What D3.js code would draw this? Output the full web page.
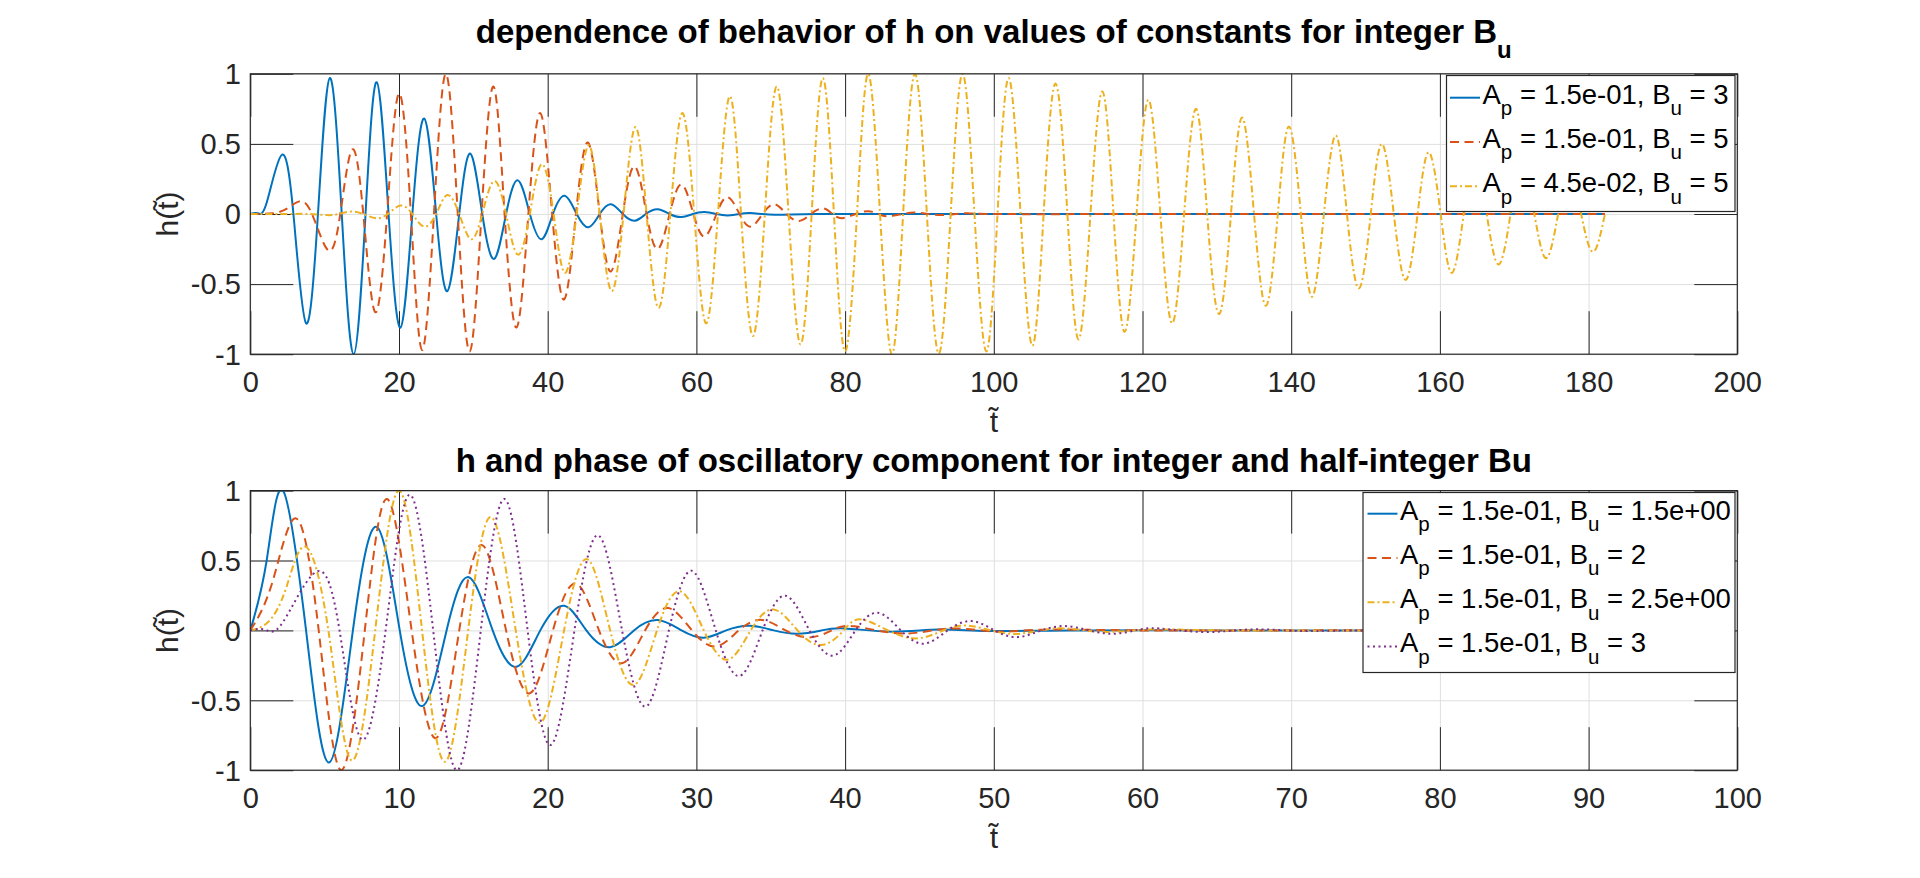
<!DOCTYPE html>
<html>
<head>
<meta charset="utf-8">
<script src="https://cdnjs.cloudflare.com/ajax/libs/d3/7.8.5/d3.min.js"></script>
<style>
  body { margin: 0; background: #fff; }
</style>
</head>
<body>
<div id="chart-area"></div>
<script>
// tick values / labels
var xTicksTop = [0, 20, 40, 60, 80, 100, 120, 140, 160, 180, 200];
var xTicksBottom = [0, 10, 20, 30, 40, 50, 60, 70, 80, 90, 100];
var yTicks = [-1, -0.5, 0, 0.5, 1];
var yTickLabels = ["-1", "-0.5", "0", "0.5", "1"];

// legend values
var topAp = ["1.5e-01", "1.5e-01", "4.5e-02"];
var topBu = ["3", "5", "5"];
var bottomAp = ["1.5e-01", "1.5e-01", "1.5e-01", "1.5e-01"];
var bottomBu = ["1.5e+00", "2", "2.5e+00", "3"];

// top panel: Ap = 0.15, Bu = 3
var topBu3 = [[0,0],[1,0.005],[2.2,0.08],[4.2,0.42],[5.8,0],[7.5,-0.78],[9.1,0],[10.7,0.97],[12.3,0],
  [13.9,-1.0],[15.5,0],[17.0,0.94],[18.6,0],[20.2,-0.81],[21.8,0],[23.4,0.68],[25.0,0],[26.5,-0.55],
  [28.1,0],[29.6,0.43],[31.2,0],[32.8,-0.32],[34.4,0],[36.0,0.24],[37.6,0],[39.2,-0.18],[40.7,0],
  [42.3,0.13],[43.9,0],[45.5,-0.095],[47.0,0],[48.5,0.07],[50.1,0],[51.7,-0.048],[53.2,0],[54.8,0.034],
  [56.4,0],[58.0,-0.022],[59.5,0],[61.1,0.014],[62.7,0],[64.2,-0.01],[65.8,0],[67.3,0.007],[70.5,-0.005],
  [76,0],[90,0],[110,0],[130,0],[150,0],[170,0],[182.2,0]];

// top panel: Ap = 0.15, Bu = 5
var topBu5 = [[0,0],[3,0.005],[5,0.04],[6.6,0.09],[8.3,0],[10.5,-0.26],[12.1,0],[13.7,0.46],[15.2,0],
  [16.8,-0.70],[18.4,0],[20.0,0.86],[21.6,0],[23.1,-0.97],[24.7,0],[26.3,1.0],[27.9,0],[29.5,-0.98],
  [31.1,0],[32.7,0.91],[34.2,0],[35.8,-0.81],[37.4,0],[39.0,0.72],[40.6,0],[42.2,-0.61],[43.8,0],
  [45.4,0.51],[47.0,0],[48.5,-0.41],[50.1,0],[51.7,0.34],[53.3,0],[54.8,-0.25],[56.4,0],[58.0,0.21],
  [59.6,0],[61.1,-0.16],[62.7,0],[64.2,0.12],[65.8,0],[67.3,-0.09],[68.9,0],[70.5,0.07],[72.1,0],
  [73.8,-0.05],[75.4,0],[77.0,0.04],[78.3,0],[79.6,-0.03],[81.4,0],[83.1,0.02],[84.5,0],[86.0,-0.015],
  [89.3,0.01],[92.5,-0.007],[96,0.005],[100,0],[120,0],[140,0],[160,0],[182.2,0]];

// top panel: Ap = 0.045, Bu = 5
var topSmallAp = [[0,0],[5,0],[8,0],[10.3,-0.008],[11.9,0],[13.5,0.017],[15.2,0],[16.9,-0.03],[18.5,0],
  [20.2,0.06],[21.8,0],[23.4,-0.09],[25.0,0],[26.5,0.135],[28.1,0],[29.7,-0.18],[31.2,0],[32.8,0.235],
  [34.4,0],[36.0,-0.29],[37.6,0],[39.2,0.355],[40.8,0],[42.3,-0.42],[43.9,0],[45.5,0.49],[47.0,0],
  [48.6,-0.55],[50.2,0],[51.8,0.62],[53.3,0],[54.9,-0.67],[56.5,0],[58.1,0.72],[59.7,0],[61.3,-0.78],
  [62.9,0],[64.5,0.84],[66.0,0],[67.6,-0.87],[69.2,0],[70.8,0.91],[72.4,0],[74.0,-0.93],[75.5,0],
  [77.0,0.97],[78.5,0],[80.0,-0.98],[81.6,0],[83.1,1.0],[84.7,0],[86.3,-1.0],[87.8,0],[89.4,1.0],
  [91.0,0],[92.6,-0.995],[94.2,0],[95.8,1.0],[97.4,0],[99.0,-0.98],[100.5,0],[102.0,0.97],[103.6,0],
  [105.2,-0.94],[106.7,0],[108.3,0.93],[109.9,0],[111.4,-0.895],[113.0,0],[114.6,0.874],[116.1,0],
  [117.6,-0.84],[119.2,0],[120.8,0.814],[122.4,0],[124.0,-0.78],[125.6,0],[127.2,0.75],[128.7,0],
  [130.3,-0.714],[131.9,0],[133.4,0.688],[135.0,0],[136.6,-0.655],[138.2,0],[139.7,0.624],[141.3,0],
  [142.8,-0.59],[144.4,0],[146.0,0.56],[147.5,0],[149.1,-0.53],[150.7,0],[152.2,0.50],[153.8,0],
  [155.4,-0.47],[157.0,0],[158.5,0.44],[160.1,0],[161.6,-0.42],[163.2,0],[164.7,0.39],[166.3,0],
  [167.9,-0.36],[169.5,0],[171.0,0.34],[172.7,0],[174.3,-0.315],[175.9,0],[177.4,0.29],[179.0,0],
  [180.6,-0.27],[182.2,0]];

// bottom panel: Ap = 0.15, Bu = 1.5
var botBu15 = [[0,0],[1.1,0.5],[2.2,1.0],[3.75,0],[5.3,-0.945],[6.9,0],[8.5,0.74],[10.05,0],[11.6,-0.54],
  [13.2,0],[14.7,0.38],[16.3,0],[17.9,-0.26],[19.5,0],[21.1,0.176],[22.6,0],[24.2,-0.12],[25.8,0],
  [27.4,0.074],[29.0,0],[30.5,-0.052],[32.0,0],[33.6,0.033],[35.2,0],[36.8,-0.024],[38.4,0],[40.0,0.014],
  [43.1,-0.009],[46.3,0.006],[49.5,-0.004],[55,0],[65,0],[75,0],[91,0]];

// bottom panel: Ap = 0.15, Bu = 2
var botBu2 = [[0,0],[1.5,0.35],[3.1,0.8],[4.6,0],[6.1,-1.0],[7.7,0],[9.2,0.94],[10.85,0],[12.5,-0.77],
  [14.05,0],[15.6,0.61],[17.2,0],[18.8,-0.45],[20.35,0],[21.9,0.335],[23.45,0],[25.0,-0.235],[26.55,0],
  [28.1,0.16],[29.7,0],[31.3,-0.115],[32.85,0],[34.4,0.075],[36.0,0],[37.6,-0.05],[39.1,0],[40.6,0.03],
  [43.8,-0.022],[47.0,0.013],[50.1,-0.008],[53.3,0.005],[60,0],[70,0],[80,0],[91,0]];

// bottom panel: Ap = 0.15, Bu = 2.5
var botBu25 = [[0,0],[1.2,0.06],[2.4,0.3],[3.7,0.6],[5.25,0],[6.8,-0.93],[8.4,0],[10.0,1.0],[11.55,0],
  [13.1,-0.94],[14.65,0],[16.2,0.81],[17.85,0],[19.5,-0.66],[21.1,0],[22.65,0.51],[24.2,0],[25.8,-0.39],
  [27.35,0],[28.9,0.28],[30.5,0],[32.1,-0.21],[33.65,0],[35.2,0.15],[36.8,0],[38.4,-0.105],[39.9,0],
  [41.4,0.072],[44.6,-0.057],[47.7,0.033],[51.0,-0.024],[54.1,0.014],[57.2,-0.01],[60.4,0.006],
  [65,0],[75,0],[91,0]];

// bottom panel: Ap = 0.15, Bu = 3
var botBu3 = [[0,0],[1.0,0.005],[2.2,0.06],[4.45,0.42],[6.0,0],[7.5,-0.78],[9.1,0],[10.7,0.97],[12.3,0],
  [13.9,-1.0],[15.5,0],[17.1,0.94],[18.65,0],[20.2,-0.82],[21.8,0],[23.4,0.68],[25.0,0],[26.6,-0.545],
  [28.15,0],[29.7,0.426],[31.3,0],[32.9,-0.326],[34.45,0],[36.0,0.248],[37.6,0],[39.2,-0.18],[40.7,0],
  [42.2,0.126],[43.75,0],[45.3,-0.095],[46.9,0],[48.5,0.067],[50.05,0],[51.6,-0.048],[53.2,0],[54.8,0.031],
  [56.4,0],[58.0,-0.024],[59.5,0],[61.1,0.014],[64.2,-0.012],[67.3,0.007],[70.4,-0.004],[75,0],[91,0]];

var colors = ["#0072BD", "#D95319", "#EDB120", "#7E2F8E"];
var dashes = [null, "9,5.5", "7,3,2,3", "2,3.5"];

var FONT = "'Liberation Sans', Arial, Helvetica, sans-serif";
var textColor = "#262626";

var svg = d3.select("#chart-area")
  .append("svg")
    .attr("width", 1920)
    .attr("height", 878);

var left = 250.3, right = 1737.3;

drawPanel({
  id: "top", top: 73.8, bottom: 354.2, xMax: 200, xTicks: xTicksTop,
  series: [topBu3, topBu5, topSmallAp], ap: topAp, bu: topBu,
  title: "dependence of behavior of h on values of constants for integer B", titleSub: "u",
  titleY: 42.7, legend: { x: 1446.5, y: 75.5, w: 288.5, h: 136, row0: 103.5, lineX: 1450, textX: 1482.5 }
});

drawPanel({
  id: "bot", top: 490.6, bottom: 770.2, xMax: 100, xTicks: xTicksBottom,
  series: [botBu15, botBu2, botBu25, botBu3], ap: bottomAp, bu: bottomBu,
  title: "h and phase of oscillatory component for integer and half-integer Bu", titleSub: null,
  titleY: 471.7, legend: { x: 1363, y: 492.5, w: 372, h: 180, row0: 519.5, lineX: 1367.5, textX: 1400 }
});

function drawPanel(p) {
  var width = right - left, height = p.bottom - p.top;
  var g = svg.append("g").attr("transform", "translate(" + left + "," + p.top + ")");

  var x = d3.scaleLinear().domain([0, p.xMax]).range([0, width]);
  var y = d3.scaleLinear().domain([-1, 1]).range([height, 0]);

  // grid
  g.append("g")
    .attr("transform", "translate(0," + height + ")")
    .call(d3.axisBottom(x).tickValues(p.xTicks).tickSize(-height).tickFormat(""))
    .call(function(s){ s.select(".domain").remove(); s.selectAll("line").attr("stroke", "#dfdfdf"); });
  g.append("g")
    .call(d3.axisLeft(y).tickValues(yTicks).tickSize(-width).tickFormat(""))
    .call(function(s){ s.select(".domain").remove(); s.selectAll("line").attr("stroke", "#dfdfdf"); });

  // ticks on all four sides, pointing inwards
  var tk = 43;
  var xAxisB = g.append("g")
    .attr("transform", "translate(0," + height + ")")
    .call(d3.axisBottom(x).tickValues(p.xTicks).tickSizeInner(-tk).tickSizeOuter(0).tickPadding(0));
  xAxisB.selectAll("text").attr("dy", null).attr("y", 38);
  g.append("g")
    .call(d3.axisTop(x).tickValues(p.xTicks).tickSizeInner(-tk).tickSizeOuter(0).tickFormat(""));
  g.append("g")
    .call(d3.axisLeft(y).tickValues(yTicks).tickSizeInner(-tk).tickSizeOuter(0).tickPadding(9.5)
      .tickFormat(function(d, i){ return yTickLabels[i]; }))
    .selectAll("text").attr("dy", "0.34em");
  g.append("g")
    .attr("transform", "translate(" + width + ",0)")
    .call(d3.axisRight(y).tickValues(yTicks).tickSizeInner(-tk).tickSizeOuter(0).tickFormat(""));

  g.selectAll(".domain").remove();
  g.selectAll(".tick line").filter(function(){ return d3.select(this).attr("stroke") !== "#dfdfdf"; })
    .attr("stroke", textColor);
  g.selectAll(".tick text")
    .attr("font-family", FONT).attr("font-size", "29px").attr("fill", textColor);

  // lines
  g.append("clipPath").attr("id", "clip-" + p.id)
    .append("rect").attr("width", width).attr("height", height);

  var line = d3.line()
    .x(function(d){ return x(d[0]); })
    .y(function(d){ return y(d[1]); })
    .curve(d3.curveNatural);

  g.append("g").attr("clip-path", "url(#clip-" + p.id + ")")
    .selectAll("path")
    .data(p.series)
    .enter().append("path")
      .attr("fill", "none")
      .attr("stroke", function(d, i){ return colors[i]; })
      .attr("stroke-width", 2)
      .attr("stroke-dasharray", function(d, i){ return dashes[i]; })
      .attr("d", line);

  // axes box
  g.append("rect")
    .attr("width", width).attr("height", height)
    .attr("fill", "none").attr("stroke", textColor).attr("stroke-width", 1.2);

  // Title
  var title = svg.append("text")
    .attr("x", left + width / 2).attr("y", p.titleY)
    .attr("text-anchor", "middle")
    .attr("font-family", FONT).attr("font-weight", "bold").attr("font-size", "33px")
    .attr("fill", "#000");
  title.append("tspan").text(p.title);
  if (p.titleSub) title.append("tspan").attr("font-size", "24px").attr("dy", 15.5).text(p.titleSub);

  // X Label
  svg.append("text")
    .attr("x", left + width / 2).attr("y", p.bottom + 77.5)
    .attr("text-anchor", "middle")
    .attr("font-family", FONT).attr("font-size", "30px").attr("fill", textColor)
    .text("t\u0303");

  // Y Label
  svg.append("text")
    .attr("transform", "translate(178," + (p.top + height / 2) + ") rotate(-90)")
    .attr("text-anchor", "middle")
    .attr("font-family", FONT).attr("font-size", "30px").attr("fill", textColor)
    .text("h(t\u0303)");

  // Legend
  var L = p.legend;
  var lg = svg.append("g");
  lg.append("rect")
    .attr("x", L.x).attr("y", L.y).attr("width", L.w).attr("height", L.h)
    .attr("fill", "#fff").attr("stroke", textColor).attr("stroke-width", 1.2);

  p.series.forEach(function(s, i) {
    var by = L.row0 + i * 44.3;
    lg.append("line")
      .attr("x1", L.lineX).attr("x2", L.lineX + 30)
      .attr("y1", by - 5.8).attr("y2", by - 5.8)
      .attr("stroke", colors[i]).attr("stroke-width", 2)
      .attr("stroke-dasharray", dashes[i]);
    var t = lg.append("text")
      .attr("x", L.textX).attr("y", by)
      .attr("font-family", FONT).attr("font-size", "27.5px").attr("fill", "#000");
    t.append("tspan").text("A");
    t.append("tspan").attr("font-size", "20.5px").attr("dy", 11.5).text("p");
    t.append("tspan").attr("dy", -11.5).text(" = " + p.ap[i] + ", B");
    t.append("tspan").attr("font-size", "20.5px").attr("dy", 11.5).text("u");
    t.append("tspan").attr("dy", -11.5).text(" = " + p.bu[i]);
  });
}
</script>
</body>
</html>
